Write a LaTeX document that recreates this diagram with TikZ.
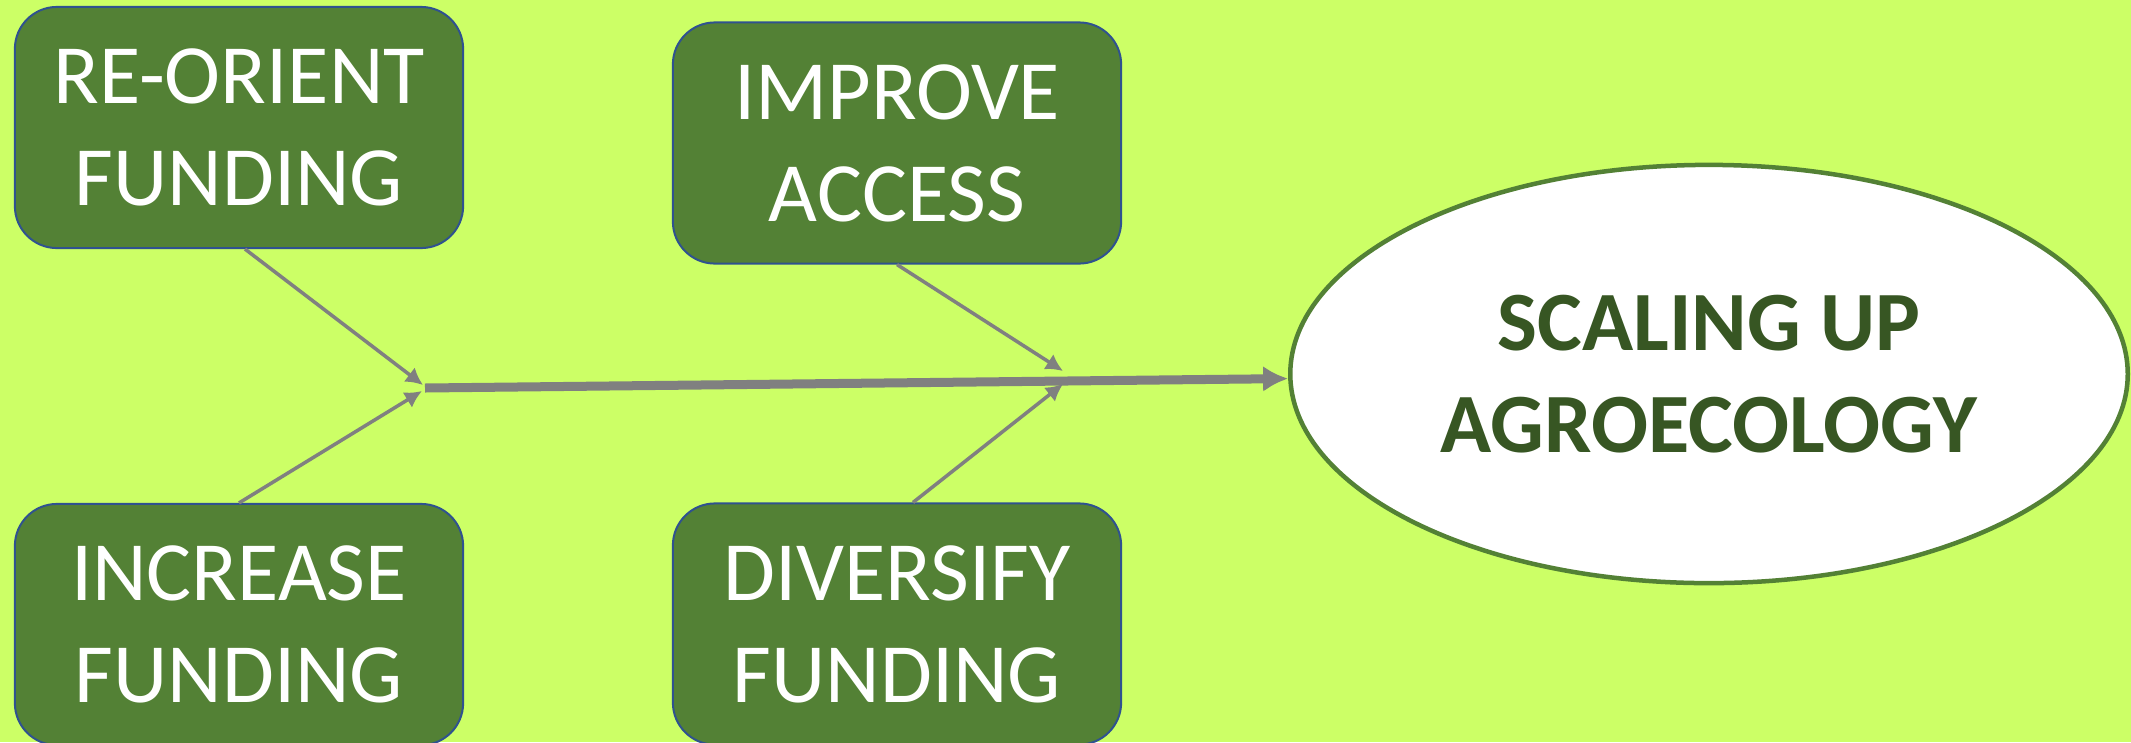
\documentclass[tikz,border=0pt]{standalone}
\usepackage{fontspec}
\setmainfont{Carlito}
\usepackage{tikz}
\usetikzlibrary{arrows.meta,shapes.geometric}

\definecolor{limebg}{HTML}{CCFF66}
\definecolor{boxgreen}{HTML}{538135}
\definecolor{boxblue}{HTML}{2F528F}
\definecolor{darkgreen}{HTML}{375623}
\definecolor{arrowgray}{HTML}{808080}

\begin{document}
\begin{tikzpicture}[x=0.01cm, y=-0.01cm,
	actionbox/.style={draw=boxblue, line width=0.02cm, fill=boxgreen, rounded corners=0.42cm,
		minimum width=4.48cm, minimum height=2.41cm, inner sep=0pt, align=center,
		text=white, font=\fontsize{24}{29}\selectfont},
	goal/.style={ellipse, draw=boxgreen, line width=0.045cm, fill=white,
		minimum width=8.37cm, minimum height=4.18cm, inner sep=0pt, align=center,
		text=darkgreen, font=\fontsize{24}{29}\selectfont\bfseries},
	thinarrow/.style={-{Latex[length=0.17cm, width=0.18cm]}, line width=0.035cm, color=arrowgray},
	thickarrow/.style={-{Latex[length=0.25cm, width=0.26cm]}, line width=0.09cm, color=arrowgray}]

	\fill[limebg] (0,0) rectangle (2131,742);
	\useasboundingbox (0,0) rectangle (2131,742);

	\node[actionbox] (reorient) at (239,127.5) {RE-ORIENT\\FUNDING};
	\node[actionbox] (increase) at (239,624.5) {INCREASE\\FUNDING};
	\node[actionbox] (improve) at (897,143) {IMPROVE\\ACCESS};
	\node[actionbox] (diversify) at (897,624) {DIVERSIFY\\FUNDING};

	\node[goal] (scaling) at (1709,374) {SCALING UP\\AGROECOLOGY};

	\coordinate (jl) at (425,388);
	\coordinate (jlup) at (423,385);
	\coordinate (jldown) at (422,391);
	\coordinate (jrup) at (1063,371);
	\coordinate (jrdown) at (1063,384);

	\draw[thickarrow] (jl) -- (scaling);

	\draw[thinarrow] ([xshift=0.06cm]reorient.south) -- (jlup);
	\draw[thinarrow] (increase.north) -- (jldown);
	\draw[thinarrow] (improve.south) -- (jrup);
	\draw[thinarrow] ([xshift=0.16cm]diversify.north) -- (jrdown);

\end{tikzpicture}
\end{document}
